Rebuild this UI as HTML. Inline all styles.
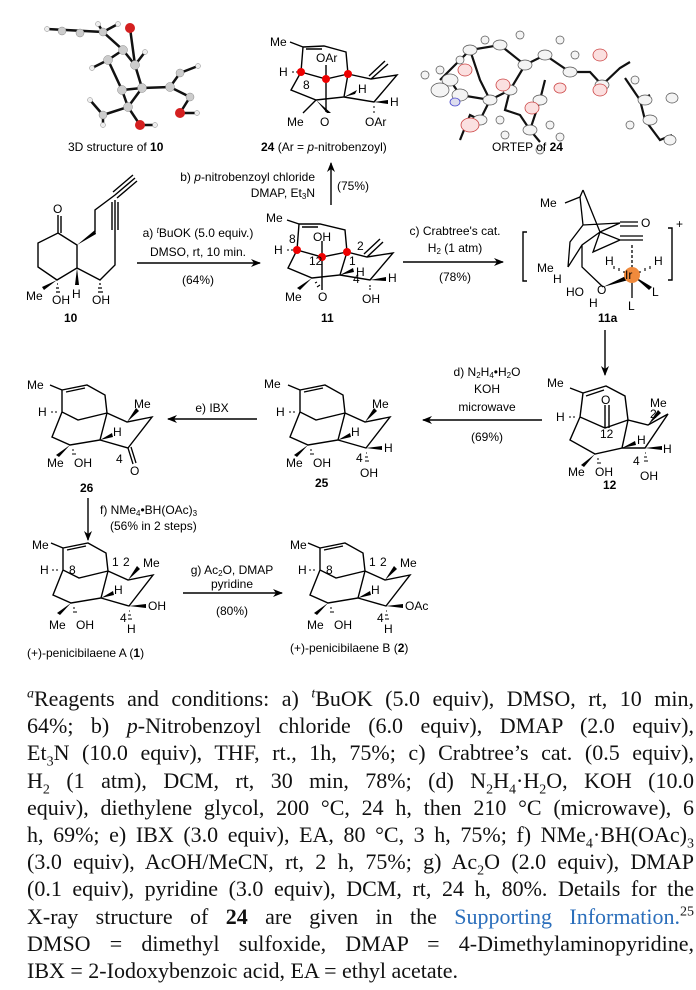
<!DOCTYPE html>
<html><head><meta charset="utf-8"><style>
html,body{margin:0;padding:0;background:#fff;}
body{width:696px;height:990px;position:relative;overflow:hidden;}
svg{position:absolute;left:0;top:0;}
svg text{font-family:"Liberation Sans",sans-serif;font-size:12px;fill:#000;}
.p{position:absolute;left:27px;width:667px;font-family:"Liberation Serif",serif;font-size:22px;line-height:27.2px;white-space:nowrap;text-align:justify;text-align-last:justify;color:#111;}
.p div{height:27.2px;}
sup,sub{font-size:14px;line-height:0;}
.blue{color:#2a6ebb;}
</style></head><body>
<svg width="696" height="690" viewBox="0 0 696 690">
<defs>
<marker id="ah" markerWidth="10" markerHeight="8" refX="9" refY="4" orient="auto" markerUnits="userSpaceOnUse"><path d="M0,0 L10,4 L0,8 L3,4 Z" fill="#000"/></marker>
<g id="sk" stroke="#000" stroke-width="1.4" fill="none">
<path d="M0,-22 L25,-27 L43,-17 L45,1 M0,-22 L0,0 L16,8 L45,1 M0,0 L-10,25 L8,33 L38,28 L45,1 M45,1 L65,10 L90,5 L66,36 L38,28 M4,-20 L23,-24 M0,-22 L-12,-27"/>
</g>
</defs>
<g stroke="#000" stroke-width="1.4" fill="none">
<line x1="137" y1="263" x2="260" y2="263" marker-end="url(#ah)"/>
<line x1="403" y1="262" x2="503" y2="262" marker-end="url(#ah)"/>
<line x1="331" y1="205" x2="331" y2="163" marker-end="url(#ah)"/>
<line x1="605" y1="330" x2="605" y2="375" marker-end="url(#ah)"/>
<line x1="542" y1="420" x2="423" y2="420" marker-end="url(#ah)"/>
<line x1="257" y1="419" x2="168" y2="419" marker-end="url(#ah)"/>
<line x1="88" y1="498" x2="88" y2="540" marker-end="url(#ah)"/>
<line x1="183" y1="593" x2="282" y2="593" marker-end="url(#ah)"/>
<path d="M527,232 L523,232 L523,281 L527,281 M668,228 L672,228 L672,280 L668,280"/>
</g>
<text x="676" y="228" font-size="14">+</text>

<!-- 3D structure -->
<g stroke="#111" stroke-width="2.5" fill="none">
<path d="M47,29 L103,32 L123,50 L108,60 L122,90 L142,88 L170,87 L190,97 L180,113 M135,65 L142,88 M123,50 L135,65 L130,28 M103,32 L98,24 M103,32 L118,24 M122,90 L128,107 L103,115 M128,107 L140,125 L155,125 M170,87 L180,73 L198,66 M142,88 L128,107 M108,60 L92,68 M135,65 L145,52 M103,115 L90,100 M103,115 L103,125 M180,113 L197,113"/>
</g>
<g fill="#ccc" stroke="#888" stroke-width="0.5">
<circle cx="62" cy="31" r="4"/><circle cx="80" cy="33" r="4"/><circle cx="103" cy="32" r="4"/><circle cx="123" cy="50" r="4.5"/><circle cx="108" cy="60" r="4.5"/><circle cx="135" cy="65" r="4.5"/><circle cx="122" cy="90" r="4.5"/><circle cx="142" cy="88" r="4.5"/><circle cx="170" cy="87" r="4.5"/><circle cx="180" cy="73" r="4"/><circle cx="190" cy="97" r="4"/><circle cx="128" cy="107" r="4.5"/><circle cx="103" cy="115" r="4"/>
<circle cx="47" cy="29" r="2.5" fill="#eee"/><circle cx="98" cy="24" r="2.5" fill="#eee"/><circle cx="118" cy="24" r="2.5" fill="#eee"/><circle cx="92" cy="68" r="2.5" fill="#eee"/><circle cx="145" cy="52" r="2.5" fill="#eee"/><circle cx="198" cy="66" r="2.5" fill="#eee"/><circle cx="197" cy="113" r="2.5" fill="#eee"/><circle cx="155" cy="125" r="2.5" fill="#eee"/><circle cx="90" cy="100" r="2.5" fill="#eee"/><circle cx="103" cy="125" r="2.5" fill="#eee"/>
</g>
<g fill="#d42020"><circle cx="130" cy="28" r="5"/><circle cx="180" cy="113" r="5"/><circle cx="140" cy="125" r="5"/></g>
<text x="68" y="151">3D structure of <tspan font-weight="bold">10</tspan></text>

<!-- ORTEP -->
<g stroke="#111" stroke-width="2.2" fill="none">
<path d="M440,80 L470,50 L500,45 L525,65 L545,55 L570,72 L590,72 L602,85 L620,68 L630,62 M525,65 L510,90 L505,110 L520,115 L530,130 L540,142 M510,90 L490,100 L460,95 L450,80 M545,80 L540,100 L530,130 M490,100 L480,120 L470,115 L460,140 M625,78 L640,100 L650,95 M640,100 L645,120 L660,140 L672,135 M470,50 L480,80 L490,100"/>
</g>
<g fill="#f4f4f4" stroke="#555" stroke-width="0.7">
<ellipse cx="470" cy="50" rx="7" ry="5"/><ellipse cx="500" cy="45" rx="7" ry="5"/><ellipse cx="525" cy="65" rx="7" ry="5"/><ellipse cx="545" cy="55" rx="7" ry="5"/><ellipse cx="570" cy="72" rx="7" ry="5"/><ellipse cx="510" cy="90" rx="7" ry="5"/><ellipse cx="540" cy="100" rx="7" ry="5"/><ellipse cx="530" cy="130" rx="7" ry="5"/><ellipse cx="490" cy="100" rx="7" ry="5"/><ellipse cx="460" cy="95" rx="8" ry="6"/><ellipse cx="450" cy="80" rx="8" ry="6"/><ellipse cx="440" cy="90" rx="9" ry="7"/><ellipse cx="480" cy="120" rx="7" ry="5"/><ellipse cx="602" cy="85" rx="7" ry="5"/><ellipse cx="645" cy="100" rx="7" ry="5"/><ellipse cx="672" cy="98" rx="6" ry="5"/><ellipse cx="650" cy="120" rx="7" ry="5"/><ellipse cx="670" cy="140" rx="6" ry="5"/>
<circle cx="460" cy="60" r="4"/><circle cx="485" cy="40" r="4"/><circle cx="520" cy="35" r="4"/><circle cx="560" cy="40" r="4"/><circle cx="575" cy="55" r="4"/><circle cx="440" cy="70" r="4"/><circle cx="425" cy="75" r="4"/><circle cx="500" cy="120" r="4"/><circle cx="505" cy="135" r="4"/><circle cx="550" cy="125" r="4"/><circle cx="560" cy="137" r="4"/><circle cx="635" cy="80" r="4"/><circle cx="630" cy="125" r="4"/><circle cx="540" cy="150" r="4"/>
</g>
<g fill="#fbe0e0" stroke="#c44" stroke-width="0.8">
<ellipse cx="465" cy="70" rx="7" ry="6"/><ellipse cx="503" cy="85" rx="7" ry="6"/><ellipse cx="532" cy="108" rx="7" ry="6"/><ellipse cx="600" cy="55" rx="7" ry="6"/><ellipse cx="600" cy="90" rx="7" ry="6"/><ellipse cx="470" cy="125" rx="9" ry="7"/><ellipse cx="560" cy="88" rx="6" ry="5"/>
</g>
<ellipse cx="455" cy="102" rx="5" ry="4" fill="#dde" stroke="#44c" stroke-width="0.8"/>
<text x="492" y="151">ORTEP of <tspan font-weight="bold">24</tspan></text>

<!-- compound 24 -->
<g stroke="#000" stroke-width="1.4" fill="none">
<path d="M303,47 L324,46 L346,52 L348,74 M303,47 L301,72 L326,79 L348,74 M301,72 L291,90 L316,100 L344,97 L348,74 M326,79 L326,65 M326,79 L326,112 M348,74 L371,79 L397,75 L374,102 L344,97 M306,49 L322,49 M303,47 L290,42 M371,79 L388,64 M369,76 L385,61 M316,100 L303,113"/>
</g>
<path d="M316,100 L331,113 L327,113 Z" fill="#000"/>
<path d="M344,97 L357,90 L355,94 Z" fill="#000"/>
<path d="M374,102 L388,100 L388,104 Z" fill="#000"/>
<g stroke="#000" stroke-width="1"><line x1="374" y1="106" x2="374" y2="108"/><line x1="374" y1="111" x2="374" y2="113"/><line x1="298" y1="72" x2="296" y2="72"/><line x1="294" y1="72" x2="292" y2="72"/></g>
<g fill="#e00"><circle cx="301" cy="72" r="4"/><circle cx="326" cy="79" r="4"/><circle cx="348" cy="74" r="4"/></g>
<text x="270" y="46">Me</text><text x="316" y="62">OAr</text><text x="279" y="76">H</text><text x="303" y="89" font-size="8">8</text>
<text x="358" y="93">H</text><text x="390" y="106">H</text><text x="287" y="126">Me</text><text x="320" y="126">O</text><text x="365" y="126">OAr</text>
<text x="261" y="151"><tspan font-weight="bold">24</tspan> (Ar = <tspan font-style="italic">p</tspan>-nitrobenzoyl)</text>
<text x="315" y="181" text-anchor="end">b) <tspan font-style="italic">p</tspan>-nitrobenzoyl chloride</text>
<text x="315" y="197" text-anchor="end">DMAP, Et<tspan font-size="8" dy="2">3</tspan><tspan dy="-2">N</tspan></text>
<text x="337" y="190">(75%)</text>

<!-- compound 10 -->
<g stroke="#000" stroke-width="1.4" fill="none">
<path d="M58,233 L77,245 L77,268 L57,280 L38,267 L38,243 Z M58,233 L58,215 M61,233 L61,216 M95,232 L95,210 L115,195 M115,195 L135,178 M113,192 L133,175 M117,198 L137,181 M77,268 L100,280 L115,265 L115,232 M115,232 L115,200 M112,230 L112,202 M118,230 L118,202"/>
</g>
<path d="M77,245 L95,230 L96,234 Z" fill="#000"/>
<path d="M57,280 L44,290 L42,287 Z" fill="#000"/>
<path d="M77,268 L75,285 L79,285 Z" fill="#000"/>
<g stroke="#000" stroke-width="1.2"><path d="M57,284 L58,284 M56,288 L59,288 M56,292 L60,292 M99,284 L101,284 M98,288 L102,288 M98,292 L103,292"/></g>
<text x="53" y="213">O</text><text x="26" y="300">Me</text><text x="52" y="304">OH</text><text x="72" y="298">H</text><text x="92" y="304">OH</text>
<text x="64" y="322" font-weight="bold">10</text>
<text x="198" y="237" text-anchor="middle">a) <tspan font-size="8" dy="-4" font-style="italic">t</tspan><tspan dy="4">BuOK (5.0 equiv.)</tspan></text>
<text x="198" y="256" text-anchor="middle">DMSO, rt, 10 min.</text>
<text x="198" y="284" text-anchor="middle">(64%)</text>

<!-- compound 11 -->
<g stroke="#000" stroke-width="1.4" fill="none">
<path d="M299,224 L320,224 L345,230 L347,252 M299,224 L297,250 L322,257 L347,252 M297,250 L288,268 L312,278 L340,275 L347,252 M322,257 L322,241 M322,257 L322,290 M347,252 L367,257 L393,253 L370,280 L340,275 M302,227 L318,227 M299,224 L287,220 M367,257 L383,242 M364,254 L380,239"/>
</g>
<path d="M312,278 L300,290 L297,288 Z" fill="#000"/>
<path d="M340,275 L353,268 L354,272 Z" fill="#000"/>
<path d="M370,280 L386,277 L386,281 Z" fill="#000"/>
<g stroke="#000" stroke-width="1.1"><path d="M315,283 L317,282 M317,287 L320,285 M370,285 L370,287 M369,289 L371,289 M293,250 L291,250 M289,250 L287,250"/></g>
<g fill="#e00"><circle cx="297" cy="250" r="4"/><circle cx="322" cy="257" r="4"/><circle cx="347" cy="252" r="4"/></g>
<text x="266" y="222">Me</text><text x="313" y="241">OH</text><text x="274" y="254">H</text>
<text x="289" y="243" font-size="8">8</text><text x="309" y="265" font-size="8">12</text><text x="349" y="265" font-size="8">1</text><text x="357" y="250" font-size="8">2</text><text x="353" y="283" font-size="8">4</text>
<text x="356" y="276">H</text><text x="388" y="282">H</text><text x="285" y="301">Me</text><text x="318" y="301">O</text><text x="362" y="303">OH</text>
<text x="321" y="322" font-weight="bold">11</text>
<text x="455" y="235" text-anchor="middle">c) Crabtree's cat.</text>
<text x="455" y="252" text-anchor="middle">H<tspan font-size="8" dy="2">2</tspan><tspan dy="-2"> (1 atm)</tspan></text>
<text x="455" y="281" text-anchor="middle">(78%)</text>

<!-- 11a -->
<g stroke="#000" stroke-width="1.3" fill="none">
<path d="M583,190 L580,197 L583,225 L620,223 M583,190 L600,232 L620,240 L643,240 M620,236 L643,236 M600,232 L620,223 M580,197 L565,203 M583,225 L570,242 L568,267 M600,232 L582,245 L582,267 L603,287 M600,232 L593,252 L620,240 M582,245 L568,267 M632,275 L632,298 M620,226 L638,226 M620,222 L638,222"/>
</g>
<path d="M603,287 L632,273 L632,279 Z" fill="#000"/>
<path d="M632,275 L652,287 L649,290 Z" fill="#000"/>
<line x1="632" y1="268" x2="632" y2="245" stroke="#000" stroke-width="1.3" stroke-dasharray="3,2"/>
<g stroke="#000" stroke-width="1.1"><path d="M624,271 L624,273 M619,268 L619,271 M614,266 L614,269 M640,271 L640,273 M645,268 L645,271 M650,266 L650,269"/></g>
<circle cx="632" cy="275" r="8" fill="#f08a3c"/>
<text x="625" y="279" font-size="11">Ir</text>
<text x="540" y="207">Me</text><text x="641" y="227">O</text><text x="537" y="272">Me</text><text x="553" y="283">H</text>
<text x="566" y="296">HO</text><text x="597" y="294">O</text><text x="589" y="307">H</text><text x="605" y="265">H</text><text x="654" y="265">H</text>
<text x="652" y="296">L</text><text x="628" y="310">L</text>
<text x="598" y="322" font-weight="bold">11a</text>

<!-- 12 -->
<g stroke="#000" stroke-width="1.4" fill="none">
<path d="M583,393 L606,386 L625,396 L628,420 M583,393 L580,417 L605,428 L628,420 M605,428 L605,405 M609,428 L609,405 M580,417 L570,440 L595,454 L622,448 L628,420 M628,420 L648,425 L668,414 L645,448 L622,448 M586,396 L604,390 M583,393 L570,388"/>
</g>
<path d="M595,454 L584,467 L581,465 Z" fill="#000"/>
<path d="M622,448 L635,441 L636,445 Z" fill="#000"/>
<path d="M645,448 L662,446 L662,450 Z" fill="#000"/>
<path d="M648,425 L658,410 L661,413 Z" fill="#000"/>
<g stroke="#000" stroke-width="1.1"><path d="M597,459 L599,459 M597,463 L601,463 M645,453 L646,453 M644,457 L647,457 M644,461 L648,461 M575,417 L573,417 M571,417 L569,417"/></g>
<text x="547" y="387">Me</text><text x="601" y="404">O</text><text x="556" y="421">H</text><text x="600" y="438" font-size="8">12</text><text x="650" y="418" font-size="8">2</text>
<text x="650" y="407">Me</text><text x="637" y="444">H</text><text x="663" y="453">H</text><text x="633" y="465" font-size="8">4</text>
<text x="568" y="476">Me</text><text x="595" y="476">OH</text><text x="640" y="480">OH</text>
<text x="603" y="489" font-weight="bold">12</text>
<text x="487" y="376" text-anchor="middle">d) N<tspan font-size="8" dy="2">2</tspan><tspan dy="-2">H</tspan><tspan font-size="8" dy="2">4</tspan><tspan dy="-2">•H</tspan><tspan font-size="8" dy="2">2</tspan><tspan dy="-2">O</tspan></text>
<text x="487" y="393" text-anchor="middle">KOH</text>
<text x="487" y="411" text-anchor="middle">microwave</text>
<text x="487" y="441" text-anchor="middle">(69%)</text>

<use href="#sk" x="300" y="412"/>
<use href="#sk" x="62" y="412"/>
<use href="#sk" x="63" y="570"/>
<use href="#sk" x="320" y="570"/>
<!-- 25 -->
<path d="M308,445 L297,457 L294,455 Z" fill="#000"/><path d="M338,440 L350,433 L351,437 Z" fill="#000"/><path d="M366,448 L382,446 L382,450 Z" fill="#000"/><path d="M365,422 L374,408 L377,411 Z" fill="#000"/>
<g stroke="#000" stroke-width="1.1"><path d="M310,450 L312,450 M310,454 L314,454 M366,453 L367,453 M365,457 L368,457 M365,461 L369,461 M295,412 L293,412 M291,412 L289,412"/></g>
<text x="264" y="388">Me</text><text x="276" y="416">H</text><text x="372" y="408">Me</text><text x="351" y="436">H</text><text x="384" y="452">H</text><text x="356" y="462" font-size="8">4</text>
<text x="286" y="467">Me</text><text x="313" y="467">OH</text><text x="360" y="477">OH</text>
<text x="315" y="487" font-weight="bold">25</text>
<!-- 26 -->
<path d="M70,445 L59,457 L56,455 Z" fill="#000"/><path d="M100,440 L112,433 L113,437 Z" fill="#000"/><path d="M127,422 L136,408 L139,411 Z" fill="#000"/>
<g stroke="#000" stroke-width="1.3"><path d="M128,448 L133,464 M131,447 L136,463"/></g>
<g stroke="#000" stroke-width="1.1"><path d="M72,450 L74,450 M72,454 L76,454 M57,412 L55,412 M53,412 L51,412"/></g>
<text x="27" y="389">Me</text><text x="38" y="416">H</text><text x="134" y="408">Me</text><text x="113" y="436">H</text><text x="116" y="463" font-size="8">4</text>
<text x="47" y="467">Me</text><text x="74" y="467">OH</text><text x="130" y="475">O</text>
<text x="80" y="492" font-weight="bold">26</text>
<text x="212" y="412" text-anchor="middle">e) IBX</text>
<text x="100" y="514">f) NMe<tspan font-size="8" dy="2">4</tspan><tspan dy="-2">•BH(OAc)</tspan><tspan font-size="8" dy="2">3</tspan></text>
<text x="110" y="530">(56% in 2 steps)</text>
<!-- 1 -->
<path d="M71,603 L60,615 L57,613 Z" fill="#000"/><path d="M101,598 L113,591 L114,595 Z" fill="#000"/><path d="M129,606 L146,604 L146,608 Z" fill="#000"/><path d="M128,580 L137,566 L140,569 Z" fill="#000"/>
<g stroke="#000" stroke-width="1.1"><path d="M73,608 L75,608 M73,612 L77,612 M129,611 L130,611 M128,615 L131,615 M128,619 L132,619 M58,570 L56,570 M54,570 L52,570"/></g>
<text x="32" y="549">Me</text><text x="40" y="574">H</text><text x="69" y="574" font-size="8">8</text><text x="112" y="566" font-size="8">1</text><text x="123" y="566" font-size="8">2</text>
<text x="143" y="567">Me</text><text x="114" y="594">H</text><text x="148" y="610">OH</text><text x="120" y="622" font-size="8">4</text>
<text x="49" y="629">Me</text><text x="76" y="629">OH</text><text x="127" y="633">H</text>
<text x="27" y="657">(+)-penicibilaene A (<tspan font-weight="bold">1</tspan>)</text>
<text x="232" y="574" text-anchor="middle">g) Ac<tspan font-size="8" dy="2">2</tspan><tspan dy="-2">O, DMAP</tspan></text>
<text x="232" y="588" text-anchor="middle">pyridine</text>
<text x="232" y="615" text-anchor="middle">(80%)</text>
<!-- 2 -->
<path d="M328,603 L317,615 L314,613 Z" fill="#000"/><path d="M358,598 L370,591 L371,595 Z" fill="#000"/><path d="M386,606 L403,604 L403,608 Z" fill="#000"/><path d="M385,580 L394,566 L397,569 Z" fill="#000"/>
<g stroke="#000" stroke-width="1.1"><path d="M330,608 L332,608 M330,612 L334,612 M386,611 L387,611 M385,615 L388,615 M385,619 L389,619 M315,570 L313,570 M311,570 L309,570"/></g>
<text x="290" y="549">Me</text><text x="298" y="574">H</text><text x="326" y="574" font-size="8">8</text><text x="369" y="566" font-size="8">1</text><text x="380" y="566" font-size="8">2</text>
<text x="400" y="567">Me</text><text x="371" y="594">H</text><text x="405" y="610">OAc</text><text x="377" y="622" font-size="8">4</text>
<text x="307" y="629">Me</text><text x="334" y="629">OH</text><text x="384" y="633">H</text>
<text x="290" y="652">(+)-penicibilaene B (<tspan font-weight="bold">2</tspan>)</text>
</svg>
<div class="p" style="top:685px;">
<div><sup><i>a</i></sup>Reagents and conditions: a) <sup><i>t</i></sup>BuOK (5.0 equiv), DMSO, rt, 10 min,</div>
<div>64%; b) <i>p</i>-Nitrobenzoyl chloride (6.0 equiv), DMAP (2.0 equiv),</div>
<div>Et<sub>3</sub>N (10.0 equiv), THF, rt., 1h, 75%; c) Crabtree’s cat. (0.5 equiv),</div>
<div>H<sub>2</sub> (1 atm), DCM, rt, 30 min, 78%; (d) N<sub>2</sub>H<sub>4</sub>·H<sub>2</sub>O, KOH (10.0</div>
<div>equiv), diethylene glycol, 200 °C, 24 h, then 210 °C (microwave), 6</div>
<div>h, 69%; e) IBX (3.0 equiv), EA, 80 °C, 3 h, 75%; f) NMe<sub>4</sub>·BH(OAc)<sub>3</sub></div>
<div>(3.0 equiv), AcOH/MeCN, rt, 2 h, 75%; g) Ac<sub>2</sub>O (2.0 equiv), DMAP</div>
<div>(0.1 equiv), pyridine (3.0 equiv), DCM, rt, 24 h, 80%. Details for the</div>
<div>X-ray structure of <b>24</b> are given in the <span class="blue">Supporting Information.</span><sup>25</sup></div>
<div>DMSO = dimethyl sulfoxide, DMAP = 4-Dimethylaminopyridine,</div>
<div style="text-align:left;text-align-last:left;">IBX = 2-Iodoxybenzoic acid, EA = ethyl acetate.</div>
</div>
</body></html>
